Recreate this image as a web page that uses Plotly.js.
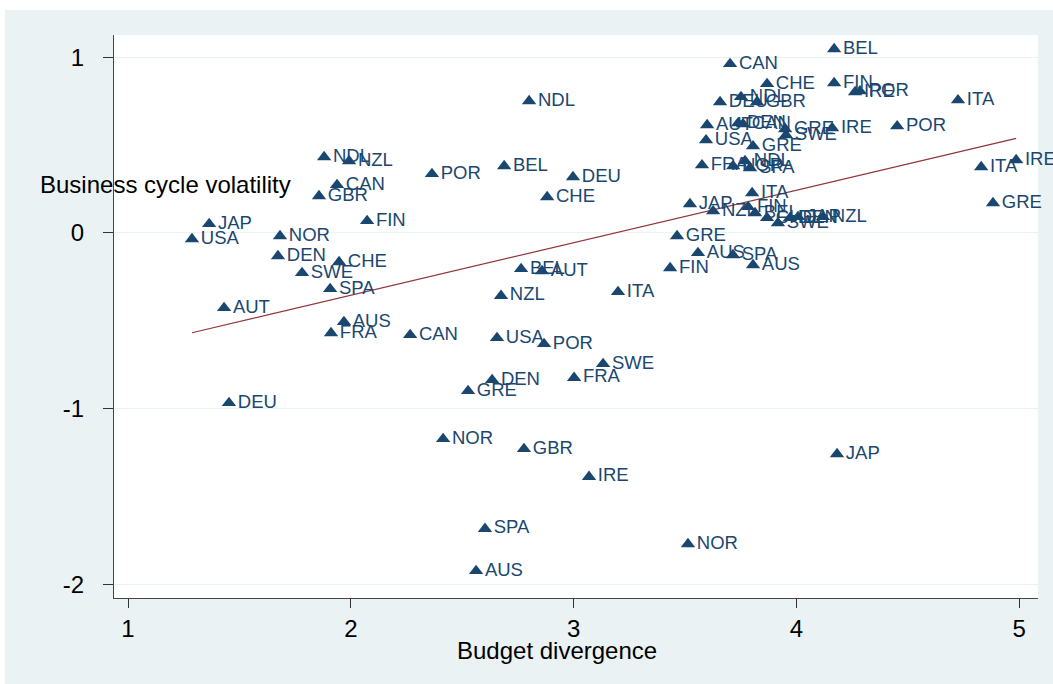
<!DOCTYPE html>
<html><head><meta charset="utf-8">
<script src="https://cdn.plot.ly/plotly-3.0.1.min.js"></script>
<style>html,body{margin:0;padding:0;background:#fff;} #chart{position:absolute;left:5px;top:10px;width:1048px;height:674px;}</style>
</head><body><div id="chart"></div>
<script>
const countries = ["JAP","USA","NOR","DEN","CHE","SWE","SPA","AUT","AUS","FRA","CAN","DEU",
"NDL","NZL","CAN","GBR","FIN","POR","BEL","DEU","CHE","NDL",
"BEL","AUT","NZL","ITA","USA","POR","SWE","FRA","DEN","GRE","NOR","GBR","IRE","SPA","AUS","NOR","JAP",
"FIN","GRE","AUS","SPA","AUS",
"BEL","CAN","CHE","FIN","IRE","POR","DEU","NDL","GBR","AUT","DEN","CAN","GRE","SWE","IRE","POR","ITA",
"USA","GRE","FRA","NOR","NDL","SPA","ITA","JAP","NZL","ITA","IRE","GRE",
"FIN","BEL","CHE","SWE","DEN","JAP","NZL"];
const budgetDivergence = [1.364,1.287,1.682,1.673,1.947,1.781,1.907,1.431,1.969,1.911,2.266,1.453,
1.880,1.992,1.938,1.857,2.073,2.364,2.688,2.997,2.881,2.800,
2.764,2.858,2.674,3.199,2.656,2.867,3.132,3.002,2.634,2.526,2.414,2.777,3.069,2.602,2.562,3.513,4.182,
3.433,3.464,3.558,3.715,3.805,
4.169,3.702,3.868,4.169,4.263,4.285,3.657,3.751,3.823,3.599,3.738,3.760,3.949,3.953,4.160,4.452,4.725,
3.594,3.805,3.576,3.716,3.769,3.792,3.801,3.522,3.626,4.829,4.986,4.882,
3.783,3.814,3.868,3.917,3.971,4.007,4.119];
const cycleVolatility = [0.051,-0.035,-0.018,-0.132,-0.166,-0.228,-0.319,-0.427,-0.507,-0.570,-0.581,-0.968,
0.432,0.409,0.273,0.210,0.068,0.336,0.381,0.318,0.204,0.751,
-0.205,-0.217,-0.358,-0.336,-0.598,-0.632,-0.746,-0.825,-0.837,-0.900,-1.173,-1.230,-1.389,-1.685,-1.925,-1.772,-1.259,
-0.200,-0.018,-0.114,-0.126,-0.183,
1.047,0.962,0.848,0.853,0.802,0.807,0.745,0.774,0.745,0.614,0.625,0.620,0.591,0.557,0.597,0.608,0.756,
0.528,0.494,0.386,0.380,0.409,0.369,0.227,0.164,0.124,0.375,0.415,0.170,
0.148,0.113,0.085,0.056,0.085,0.091,0.091];
const xTicks = [1,2,3,4,5];
const yTicks = [-2,-1,0,1];
const yTickText = ["-2","-1","0","1"];

// Linear fit (OLS) of volatility on budget divergence
const n = budgetDivergence.length;
let sx=0, sy=0, sxx=0, sxy=0;
for (let i=0;i<n;i++){const x=budgetDivergence[i], y=cycleVolatility[i]; sx+=x; sy+=y; sxx+=x*x; sxy+=x*y;}
const slope = (n*sxy - sx*sy)/(n*sxx - sx*sx);
const intercept = (sy - slope*sx)/n;
const xmin = Math.min(...budgetDivergence), xmax = Math.max(...budgetDivergence);
const fitX = [xmin, xmax];
const fitY = fitX.map(x => intercept + slope*x);

const navy = "#1a476f";
const traces = [
  {x: fitX, y: fitY, mode: "lines", line: {color: "#90353b", width: 1.2}, hoverinfo: "skip"},
  {x: budgetDivergence, y: cycleVolatility, text: countries, mode: "markers+text",
   textposition: "middle right", cliponaxis: false,
   marker: {symbol: "triangle-up", size: 12.5, color: navy},
   textfont: {family: "Liberation Sans, Arial, sans-serif", size: 18.5, color: navy}}
];
const font = {family: "Liberation Sans, Arial, sans-serif", size: 24, color: "#000"};
const layout = {
  width: 1048, height: 674,
  margin: {l: 109, r: 15, t: 25, b: 86},
  paper_bgcolor: "#eaf2f3", plot_bgcolor: "#ffffff",
  showlegend: false, font: font,
  xaxis: {range: [0.937, 5.084], tickvals: xTicks, ticks: "outside", ticklen: 9, tickcolor: "#333",
          showline: true, linecolor: "#444", linewidth: 1, showgrid: false, zeroline: false,
          tickfont: font, ticklabelstandoff: 0},
  yaxis: {range: [-2.079, 1.127], tickvals: yTicks, ticktext: yTickText, ticks: "outside", ticklen: 10,
          tickcolor: "#333", showline: true, linecolor: "#444", linewidth: 1, showgrid: true,
          gridcolor: "#eaf2f3", gridwidth: 1, zeroline: false, tickfont: font, ticklabelstandoff: 14},
  annotations: [
    {text: "Business cycle volatility", xref: "paper", x: -0.082, yref: "y", y: 0.273,
     xanchor: "left", yanchor: "middle", showarrow: false, font: font},
    {text: "Budget divergence", xref: "x", x: 2.925, yref: "paper", y: -0.0924,
     xanchor: "center", yanchor: "middle", showarrow: false, font: font}
  ]
};
Plotly.newPlot("chart", traces, layout, {displayModeBar: false, staticPlot: true});
</script></body></html>
